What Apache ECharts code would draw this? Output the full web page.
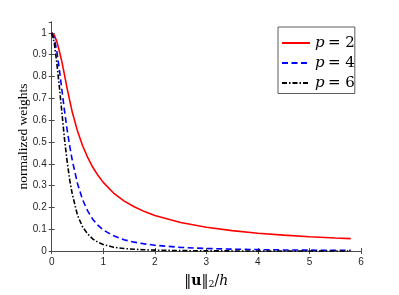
<!DOCTYPE html>
<html>
<head>
<meta charset="utf-8">
<script src="https://cdn.jsdelivr.net/npm/echarts@6/dist/echarts.min.js"></script>
<style>
html,body{margin:0;padding:0;background:#fff;}
#c{width:399px;height:295px;}
</style>
</head>
<body>
<div id="c"></div>
<script>
const xs = [0,0.05,0.1,0.15,0.2,0.25,0.3,0.35,0.4,0.5,0.6,0.7,0.8,0.9,1.0,1.2,1.4,1.6,1.8,2.0,2.5,3,3.5,4,4.5,5,5.5,5.8];
const p2 = [1,0.99,0.96,0.915,0.865,0.805,0.745,0.69,0.636,0.55,0.483,0.428,0.383,0.346,0.315,0.266,0.23,0.203,0.181,0.163,0.131,0.109,0.094,0.082,0.073,0.066,0.06,0.057];
const p4 = [1,0.975,0.915,0.83,0.735,0.64,0.555,0.48,0.415,0.31,0.235,0.183,0.145,0.118,0.097,0.07,0.052,0.041,0.033,0.027,0.017,0.012,0.009,0.0067,0.0053,0.0043,0.0036,0.0032];
const p6 = [1,0.955,0.86,0.75,0.63,0.51,0.41,0.325,0.26,0.165,0.11,0.078,0.055,0.04,0.03,0.018,0.012,0.0083,0.006,0.0044,0.0022,0.0013,0.0008,0.0006,0.0004,0.0003,0.0002,0.0002];
const seriesNames = ['p2','p4','p6'];
const xTicks = [0,1,2,3,4,5,6];

const pair = ys => xs.map((x,i)=>[x,ys[i]]);
const axisColor = '#4a4a4a';
const labelFont = {fontFamily:'Liberation Sans', fontSize:10, color:'#262626'};

const chart = echarts.init(document.getElementById('c'), null, {renderer:'canvas'});
chart.setOption({
  animation:false,
  backgroundColor:'#fff',
  grid:{left:51.7, top:22, right:38, bottom:34, containLabel:false},
  legend:{
    orient:'vertical', left:278, top:27,
    backgroundColor:'#fff', borderColor:'#333', borderWidth:0.8,
    padding:[8.5,0,3,3], itemGap:5, itemWidth:28, itemHeight:14,
    itemStyle:{opacity:0},
    data:seriesNames,
    formatter: n => '{i|p} {n|= ' + n.slice(1) + '}',
    textStyle:{
      rich:{
        i:{fontFamily:'DejaVu Serif', fontStyle:'italic', fontSize:15, color:'#000'},
        n:{fontFamily:'DejaVu Serif', fontSize:15, color:'#000'}
      }
    }
  },
  xAxis:[{
    type:'value', min:0, max:6, interval:1, position:'bottom',
    axisLine:{show:true, lineStyle:{color:axisColor, width:1}},
    axisTick:{show:true, inside:true, length:3, lineStyle:{color:axisColor}},
    axisLabel:Object.assign({margin:6, formatter:v=>String(v)}, labelFont),
    splitLine:{show:false},
    name:'‖{b|u}‖{s|2}/{i|h}', nameLocation:'middle', nameGap:13,
    nameTextStyle:{
      fontFamily:'DejaVu Serif', fontSize:14, color:'#000', lineHeight:18,
      rich:{
        b:{fontFamily:'DejaVu Serif', fontWeight:'bold', fontSize:14, color:'#000', lineHeight:18},
        s:{fontFamily:'DejaVu Serif', fontSize:9.5, color:'#000', lineHeight:10, verticalAlign:'bottom'},
        i:{fontFamily:'DejaVu Serif', fontStyle:'italic', fontSize:14, color:'#000', lineHeight:18}
      }
    }
  },{
    type:'value', min:0, max:6, interval:1, position:'top',
    axisLine:{show:true, lineStyle:{color:axisColor, width:1}},
    axisTick:{show:true, inside:true, length:3, lineStyle:{color:axisColor}},
    axisLabel:{show:false}, splitLine:{show:false}
  }],
  yAxis:[{
    type:'value', min:0, max:1.05, interval:0.1, position:'left',
    axisLine:{show:true, lineStyle:{color:axisColor, width:1}},
    axisTick:{show:true, inside:true, length:3, lineStyle:{color:axisColor}},
    axisLabel:Object.assign({margin:5, showMaxLabel:false,
      formatter:v=> (Math.abs(v*10-Math.round(v*10))<1e-6 ? String(Math.round(v*10)/10) : '')}, labelFont),
    splitLine:{show:false},
    name:'normalized weights', nameLocation:'middle', nameGap:21, nameRotate:90, nameMoveOverlap:false,
    nameTextStyle:{fontFamily:'Liberation Serif', fontSize:13.5, color:'#000'}
  },{
    type:'value', min:0, max:1.05, interval:0.1, position:'right',
    axisLine:{show:true, lineStyle:{color:axisColor, width:1}},
    axisTick:{show:true, inside:true, length:3, lineStyle:{color:axisColor}},
    axisLabel:{show:false}, splitLine:{show:false}
  }],
  series:[
    {name:'p2', type:'line', data:pair(p2), showSymbol:false, symbol:'none', smooth:false,
      lineStyle:{color:'#ff0000', width:1.6, type:'solid'}, itemStyle:{color:'#ff0000'}},
    {name:'p4', type:'line', data:pair(p4), showSymbol:false, symbol:'none', smooth:false,
      lineStyle:{color:'#0000ff', width:1.6, type:[6,3.5]}, itemStyle:{color:'#0000ff'}},
    {name:'p6', type:'line', data:pair(p6), showSymbol:false, symbol:'none', smooth:false,
      lineStyle:{color:'#000000', width:1.6, type:[5,2,1.5,2]}, itemStyle:{color:'#000000'}}
  ]
});
</script>
</body>
</html>
